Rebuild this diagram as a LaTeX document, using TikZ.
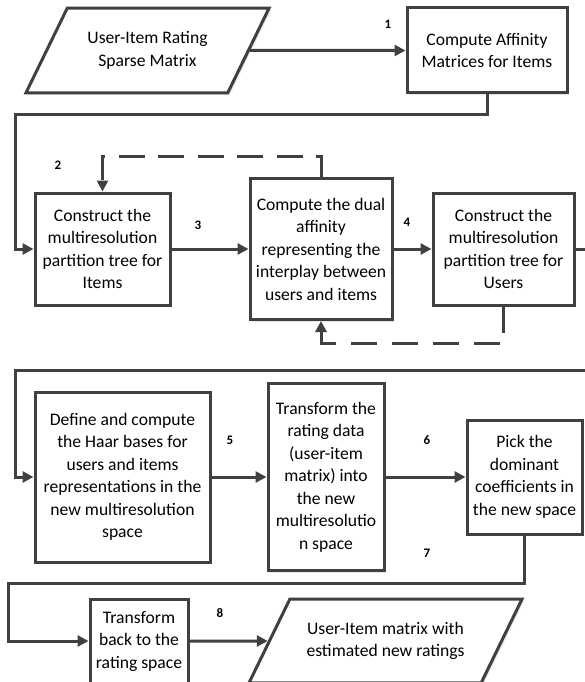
\documentclass[tikz,border=0pt]{standalone}
\usepackage{fontspec}
\setmainfont{Carlito}
\usepackage{tikz}
\usetikzlibrary{arrows.meta,positioning,shapes.geometric,shadows}

\definecolor{linegray}{HTML}{404040}

\tikzset{
  box/.style={draw=linegray, line width=3pt, fill=white, align=center, inner sep=2pt,
    font=\fontsize{17.6}{22.5}\selectfont,
    drop shadow={shadow xshift=2pt, shadow yshift=-2pt, opacity=.2}},
  iobox/.style={box, trapezium, trapezium left angle=64, trapezium right angle=116,
    trapezium stretches body, inner ysep=23.5pt},
  num/.style={font=\fontsize{13}{13}\selectfont\bfseries},
  flow/.style={->, line width=3pt, draw=linegray},
  loopback/.style={flow, dash pattern=on 26pt off 15pt},
}

\begin{document}
\begin{tikzpicture}[x=1pt,y=-1pt,>={Triangle[length=11pt,width=11pt]}]
  \useasboundingbox (0,0) rectangle (585,682);
  \clip (0,0) rectangle (585,682);

  % first row
  \node[iobox, minimum width=243pt] (in) at (147.5,50.5) {User-Item Rating\\Sparse Matrix};
  \node[box, minimum width=160pt, minimum height=85pt] (aff) at (487,50.5) {Compute Affinity\\Matrices for Items};

  % second row
  \node[box, minimum width=135pt, minimum height=112pt] (items) at (102.5,249) {Construct the\\multiresolution\\partition tree for\\Items};
  \node[box, minimum width=142pt, minimum height=141pt] (dual) [right=77pt of items] {Compute the dual\\affinity\\representing the\\interplay between\\users and items};
  \node[box, minimum width=141pt, minimum height=112pt] (users) [right=38pt of dual] {Construct the\\multiresolution\\partition tree for\\Users};

  % third row
  \node[box, minimum width=175pt, minimum height=170pt] (haar) at (122.5,477) {Define and compute\\the Haar bases for\\users and items\\representations in the\\new multiresolution\\space};
  \node[box, minimum width=116pt, minimum height=187pt] (trans) [right=55pt of haar] {Transform the\\rating data\\(user-item\\matrix) into\\the new\\multiresolutio\\n space};
  \node[box, minimum width=115pt, minimum height=114pt] (pick) [right=80pt of trans] {Pick the\\dominant\\coefficients in\\the new space};

  % last row
  \node[box, minimum width=98pt, minimum height=84pt] (back) at (139,641) {Transform\\back to the\\rating space};
  \node[iobox, minimum width=273pt, inner ysep=23pt] (out) at (385.5,641) {User-Item matrix with\\estimated new ratings};

  \coordinate (turn1)  at (15,115);
  \coordinate (turn2a) at (592,370);
  \coordinate (turn2b) at (15,370);
  \coordinate (turn3)  at (8,583);

  \draw[flow] (in) -- (aff);
  \draw[flow] (aff.south) |- (turn1) |- (items.west);
  \draw[flow] (items) -- (dual);
  \draw[flow] (dual) -- (users);
  \draw[loopback, dash pattern=on 26pt off 13.5pt] (dual.north) -- ++(0,-21) -| (items.north);
  \draw[loopback] (users.south) -- ++(0,37) -| (dual.south);
  \draw[flow] (users.east) -| (turn2a) -- (turn2b) |- (haar.west);
  \draw[flow] (haar) -- (trans);
  \draw[flow] (trans) -- (pick);
  \draw[flow] (pick.south) |- (turn3) |- (back.west);
  \draw[flow] (back) -- (out);

  % step numbers
  \node[num] (n1) at (388,24)  {1};
  \node[num] (n2) at (58,165)  {2};
  \node[num] (n3) at (198,225) {3};
  \node[num] (n4) at (407,222) {4};
  \node[num] (n5) at (230,440) {5};
  \node[num] (n6) at (427,440) {6};
  \node[num] (n7) at (427,553) {7};
  \node[num] (n8) at (220,613) {8};
\end{tikzpicture}
\end{document}
